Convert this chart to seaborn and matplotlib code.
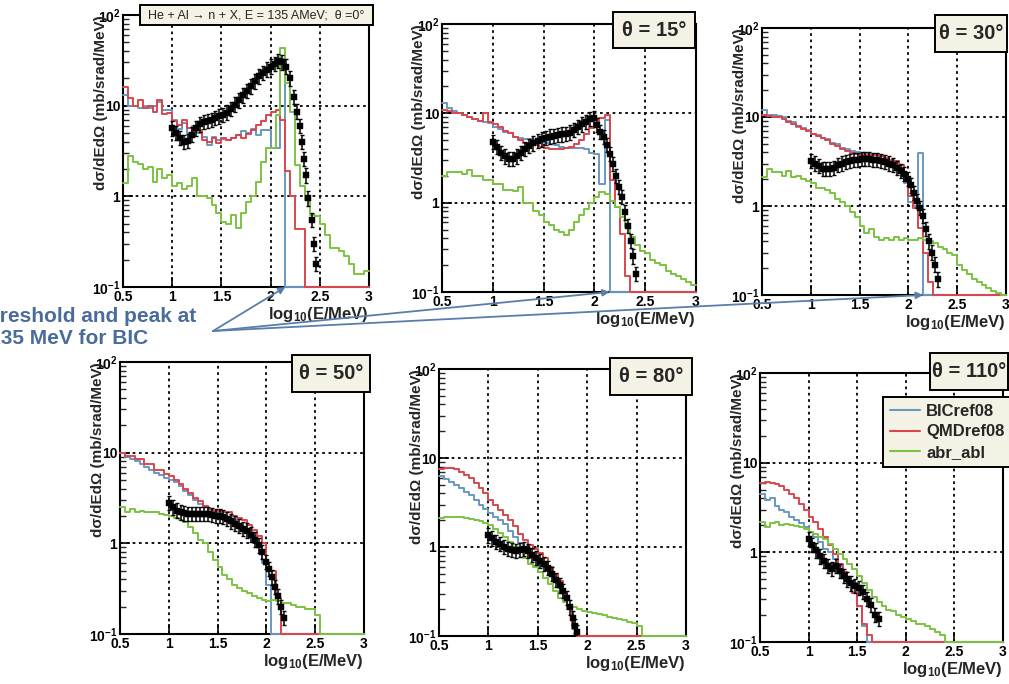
import numpy as np
import pandas as pd
import matplotlib
matplotlib.use("Agg")
import matplotlib.pyplot as plt
import seaborn as sns
from matplotlib.patches import Rectangle
from matplotlib.lines import Line2D
from matplotlib.ticker import LogLocator, NullFormatter

# ---------------- data ----------------
# histogram bins: log10(E/MeV) from 0.5 to 3.0, width 0.05 (values listed up to the last filled bin)
bic_0 = [13, 10, 10, 9.5, 10, 9.5, 10, 11, 9, 9, 7, 5.5, 6.5, 5, 6, 5, 4.5, 3.7, 4.5, 4.2,
         4.3, 4.2, 4.4, 4.8, 5.3, 5.0, 5.5, 4.8, 5.4, 5.4, 3.4, 3.4, 33]
qmd_0 = [16, 12, 10, 11.5, 9.4, 10, 8.6, 11.5, 8, 8.2, 6.7, 6.1, 6.9, 5.6, 5.2, 5.4, 4.2, 4.0, 4.4, 3.9,
         4.4, 4.2, 4.4, 4.7, 4.4, 4.9, 5.4, 6.1, 6.7, 7.9, 8.6, 9.0, 7.0, 1.9, 1.0, 0.44, 0.44]
abl_0 = [1.4, 2.8, 2.4, 2.3, 2.0, 2.1, 1.45, 2.0, 1.6, 1.7, 1.3, 1.4, 1.2, 1.3, 1.6, 1.0, 1.0, 0.95, 0.8, 0.65,
         0.52, 0.5, 0.62, 0.45, 0.65, 0.87, 1.0, 1.45, 2.4, 3.4, 3.4, 7.9, 43, 18, 8.6, 2.2, 1.3, 0.9, 0.62, 0.6,
         0.5, 0.37, 0.27, 0.27, 0.25, 0.22, 0.18, 0.14, 0.14, 0.15]

bic_1 = [13, 11.5, 10.5, 10, 9.6, 9.0, 8.7, 8.2, 8.0, 7.7, 7.0, 6.7, 6.2, 6.0, 5.5, 5.3, 5.2, 5.2, 5.0, 4.8,
         4.6, 4.5, 4.4, 4.2, 4.1, 4.1, 4.1, 4.1, 4.0, 3.6, 3.5, 1.6, 8.4]
qmd_1 = [11, 10.5, 10, 10, 9.5, 9, 8.6, 8.2, 10, 8, 7.5, 7.0, 6.4, 6.0, 5.5, 5.0, 4.7, 4.5, 4.4, 4.2,
         4.1, 4.0, 4.0, 4.0, 4.1, 4.2, 4.5, 5.0, 5.8, 6.8, 7.5, 8.8, 9.5, 1.8, 0.9, 0.45, 0.15]
abl_1 = [2.0, 2.2, 2.2, 2.2, 2.1, 2.3, 2.0, 2.0, 1.8, 1.8, 1.6, 1.6, 1.4, 1.4, 1.35, 1.5, 1.0, 0.98, 0.8, 0.72,
         0.6, 0.56, 0.5, 0.47, 0.44, 0.5, 0.6, 0.72, 0.85, 1.0, 1.15, 1.3, 1.25, 1.05, 0.9, 0.7, 0.53, 0.41, 0.34, 0.29,
         0.27, 0.23, 0.21, 0.2, 0.17, 0.16, 0.15, 0.14, 0.13, 0.12]

bic_2 = [12, 10.5, 10.5, 10.3, 10, 9, 8.8, 7.8, 7.5, 7.2, 6.5, 6.2, 5.8, 5.6, 5.1, 5.0, 4.5, 4.4, 4.1, 4.0,
         3.9, 3.9, 3.8, 3.8, 3.6, 3.5, 3.2, 3.1, 2.7, 1.8, 1.1, 1.0, 3.9]
qmd_2 = [10.5, 10.2, 10, 10, 9.6, 8.8, 8.3, 8.0, 7.3, 7.0, 6.4, 6.1, 5.8, 5.5, 5.0, 4.7, 4.4, 4.2, 3.9, 3.8,
         3.7, 3.7, 3.7, 3.7, 3.6, 3.5, 3.3, 3.2, 2.9, 2.2, 1.3, 0.95, 0.57, 0.3, 0.14]
abl_2 = [2.1, 2.6, 2.4, 2.4, 2.2, 2.5, 2.1, 2.2, 2.0, 1.9, 1.8, 1.6, 1.6, 1.5, 1.4, 1.2, 1.1, 1.0, 0.85, 0.75,
         0.6, 0.5, 0.55, 0.45, 0.42, 0.44, 0.42, 0.45, 0.42, 0.44, 0.42, 0.42, 0.44, 0.42, 0.4, 0.38, 0.35, 0.33, 0.3, 0.28,
         0.22, 0.19, 0.17, 0.15, 0.14, 0.13, 0.12, 0.11, 0.105, 0.1]

bic_3 = [10, 9, 8.5, 8, 7.5, 7, 6.5, 6, 5.6, 5.3, 5.0, 4.7, 4.3, 3.8, 3.4, 3.0, 2.7, 2.5, 2.3, 2.2,
         2.1, 2.0, 1.9, 1.8, 1.6, 1.5, 1.4, 1.2, 0.9, 0.6, 0.35]
qmd_3 = [10, 9.2, 9.2, 8.5, 8.5, 7.5, 7.5, 6.5, 6.5, 5.8, 5.5, 5.0, 4.5, 4.0, 3.6, 3.2, 2.9, 2.6, 2.4, 2.3,
         2.3, 2.2, 2.2, 2.0, 1.9, 1.8, 1.6, 1.4, 1.2, 1.0, 0.55, 0.5, 0.25]
abl_3 = [2.5, 2.2, 2.4, 2.2, 2.25, 2.2, 2.2, 2.2, 2.1, 2.05, 2.0, 1.9, 1.8, 1.7, 1.5, 1.3, 1.1, 1.0, 0.8, 0.65,
         0.55, 0.45, 0.4, 0.35, 0.32, 0.3, 0.28, 0.26, 0.25, 0.24, 0.23, 0.24, 0.23, 0.22, 0.22, 0.21, 0.2, 0.2, 0.19, 0.19,
         0.16]

bic_4 = [6.2, 5.8, 5.4, 5.0, 4.6, 4.2, 3.8, 3.4, 3.0, 2.7, 2.4, 2.2, 2.0, 1.8, 1.5, 1.3, 1.1, 0.95, 0.85, 0.75,
         0.68, 0.6, 0.5, 0.42, 0.35, 0.28, 0.2, 0.12]
qmd_4 = [7.5, 7.8, 7.8, 7.5, 7.0, 6.5, 6.0, 5.2, 4.6, 4.0, 3.4, 3.0, 2.6, 2.3, 2.0, 1.7, 1.4, 1.2, 1.05, 0.95,
         0.85, 0.75, 0.6, 0.5, 0.42, 0.3, 0.2, 0.13]
abl_4 = [2.1, 2.15, 2.2, 2.2, 2.15, 2.1, 2.05, 2.0, 1.95, 1.85, 1.75, 1.6, 1.45, 1.3, 1.15, 1.0, 0.9, 0.75, 0.65, 0.6,
         0.52, 0.45, 0.38, 0.32, 0.27, 0.24, 0.22, 0.21, 0.2, 0.19, 0.185, 0.18, 0.175, 0.17, 0.165, 0.16, 0.155, 0.15, 0.145, 0.14,
         0.13]

bic_5 = [4.5, 3.8, 4.0, 3.3, 3.0, 2.8, 2.5, 2.3, 2.1, 1.9, 1.7, 1.5, 1.3, 1.1, 1.0, 0.85, 0.7, 0.55, 0.45, 0.35,
         0.25, 0.15]
qmd_5 = [6.0, 6.1, 6.0, 5.8, 5.5, 5.0, 4.5, 4.0, 3.5, 3.0, 2.5, 2.2, 1.8, 1.5, 1.2, 0.95, 0.75, 0.6, 0.45, 0.35,
         0.25, 0.16, 0.12]
abl_5 = [2.2, 1.9, 2.1, 2.2, 2.0, 2.05, 2.0, 1.95, 1.9, 1.8, 1.7, 1.6, 1.5, 1.4, 1.25, 1.1, 0.95, 0.85, 0.75, 0.65,
         0.55, 0.45, 0.38, 0.32, 0.28, 0.25, 0.23, 0.22, 0.2, 0.19, 0.18, 0.17, 0.16, 0.16, 0.15, 0.14, 0.13, 0.12]

# measured points (log10 E, cross section)
dx_0 = [1.00, 1.04, 1.08, 1.12, 1.16, 1.20, 1.24, 1.28, 1.32, 1.36, 1.40, 1.44, 1.48, 1.52, 1.56, 1.60,
        1.64, 1.68, 1.72, 1.76, 1.80, 1.84, 1.88, 1.92, 1.96, 2.00, 2.04, 2.08, 2.12, 2.16, 2.20,
        2.24, 2.27, 2.30, 2.32, 2.34, 2.36, 2.38, 2.42, 2.44, 2.46]
dy_0 = [5.6, 5.0, 4.4, 4.0, 4.1, 4.8, 5.6, 6.2, 6.6, 6.8, 7.0, 7.3, 7.6, 7.9, 8.4, 9.2,
        10.3, 11.5, 13.0, 14.5, 16.3, 18.5, 21, 23, 25, 27, 29, 31, 30, 27, 20,
        12.5, 8.6, 6.0, 4.0, 2.6, 1.7, 0.95, 0.55, 0.3, 0.18]
dx_1 = [1.00, 1.04, 1.08, 1.12, 1.16, 1.20, 1.24, 1.28, 1.32, 1.36, 1.40, 1.44, 1.48, 1.52, 1.56, 1.60,
        1.64, 1.68, 1.72, 1.76, 1.80, 1.84, 1.88, 1.92, 1.96, 2.00,
        2.03, 2.06, 2.09, 2.12, 2.15, 2.18, 2.21, 2.24, 2.27, 2.30, 2.33, 2.36, 2.38, 2.41]
dy_1 = [4.8, 4.2, 3.6, 3.3, 3.1, 3.1, 3.3, 3.6, 4.0, 4.3, 4.6, 4.9, 5.1, 5.3, 5.5, 5.6,
        5.7, 5.8, 5.9, 6.1, 6.5, 7.0, 7.5, 8.0, 8.6, 8.8,
        7.4, 6.2, 5.4, 4.4, 3.5, 2.7, 2.0, 1.5, 1.15, 0.78, 0.55, 0.37, 0.25, 0.16]
dx_2 = [1.00, 1.04, 1.08, 1.12, 1.16, 1.20, 1.24, 1.28, 1.32, 1.36, 1.40, 1.44, 1.48, 1.52, 1.56, 1.60,
        1.64, 1.68, 1.72, 1.76, 1.80, 1.84, 1.88, 1.92, 1.96,
        2.00, 2.03, 2.06, 2.09, 2.12, 2.15, 2.18, 2.21, 2.24, 2.27, 2.30]
dy_2 = [3.2, 3.0, 2.8, 2.6, 2.6, 2.6, 2.7, 2.9, 3.0, 3.1, 3.2, 3.3, 3.3, 3.4, 3.4, 3.4,
        3.3, 3.3, 3.2, 3.1, 3.0, 2.9, 2.7, 2.5, 2.3,
        2.0, 1.7, 1.4, 1.15, 0.95, 0.78, 0.55, 0.4, 0.3, 0.22, 0.15]
dx_3 = [1.00, 1.04, 1.08, 1.12, 1.16, 1.20, 1.24, 1.28, 1.32, 1.36, 1.40, 1.44, 1.48, 1.52, 1.56, 1.60,
        1.64, 1.68, 1.72, 1.76, 1.80, 1.84, 1.88, 1.92, 1.96, 2.00,
        2.03, 2.06, 2.09, 2.12, 2.15, 2.18]
dy_3 = [2.8, 2.5, 2.3, 2.2, 2.15, 2.1, 2.1, 2.1, 2.1, 2.1, 2.1, 2.05, 2.0, 2.0, 1.95, 1.85,
        1.75, 1.65, 1.55, 1.45, 1.38, 1.25, 1.1, 0.95, 0.8, 0.62,
        0.52, 0.42, 0.33, 0.26, 0.2, 0.15]
dx_4 = [1.00, 1.04, 1.08, 1.12, 1.16, 1.20, 1.24, 1.28, 1.32, 1.36, 1.40, 1.44, 1.48, 1.52, 1.56, 1.60,
        1.64, 1.68, 1.72, 1.76, 1.80, 1.83, 1.86, 1.88, 1.90]
dy_4 = [1.35, 1.25, 1.15, 1.08, 1.0, 0.96, 0.92, 0.9, 0.92, 0.95, 0.9, 0.82, 0.76, 0.7, 0.65, 0.58,
        0.5, 0.43, 0.37, 0.32, 0.27, 0.21, 0.16, 0.13, 0.11]
dx_5 = [1.00, 1.04, 1.08, 1.12, 1.16, 1.20, 1.24, 1.28, 1.32, 1.36, 1.40, 1.44, 1.48, 1.52, 1.56, 1.60,
        1.64, 1.68, 1.72]
dy_5 = [1.4, 1.2, 1.05, 0.9, 0.8, 0.7, 0.65, 0.7, 0.62, 0.55, 0.5, 0.45, 0.42, 0.4, 0.36, 0.3,
        0.26, 0.2, 0.18]

angles = ["0", "15", "30", "50", "80", "110"]
series_names = ["BICref08", "QMDref08", "abr_abl"]
x_ticks = [0.5, 1, 1.5, 2, 2.5, 3]
x_ticklabels = ["0.5", "1", "1.5", "2", "2.5", "3"]
y_ticks = [0.1, 1, 10, 100]
y_ticklabels = [r"$10^{-1}$", "1", "10", r"$10^{2}$"]

# ---------------- style ----------------
sns.set_style("ticks")
plt.rcParams["font.family"] = ["Liberation Sans", "DejaVu Sans"]
plt.rcParams["mathtext.fontset"] = "custom"
plt.rcParams["mathtext.rm"] = "Liberation Sans"
plt.rcParams["mathtext.bf"] = "Liberation Sans:bold"
plt.rcParams["mathtext.it"] = "Liberation Sans:italic"
plt.rcParams["mathtext.default"] = "bf"

COLORS = ["#6a97c2", "#d9464e", "#7dc244"]
BOXFACE = "#f4f2e4"
W, H = 1009, 684
EDGES = np.linspace(0.5, 3.0, 51)
YMIN, YMAX = 0.1, 100.0

fig = plt.figure(figsize=(W / 100, H / 100), dpi=100)
fig.patch.set_facecolor("white")

# axes rectangles in pixels: left, right, top, bottom
rects = [(123, 369, 15, 287), (442, 696, 24, 292), (762, 1006, 28, 295),
         (120, 364, 362, 634), (439, 686, 369, 636), (760, 1003, 373, 642)]
hists = [(bic_0, qmd_0, abl_0), (bic_1, qmd_1, abl_1), (bic_2, qmd_2, abl_2),
         (bic_3, qmd_3, abl_3), (bic_4, qmd_4, abl_4), (bic_5, qmd_5, abl_5)]
points = [(dx_0, dy_0), (dx_1, dy_1), (dx_2, dy_2), (dx_3, dy_3), (dx_4, dy_4), (dx_5, dy_5)]


def draw_hist(ax, vals, color):
    v = list(vals) + [YMIN] * (len(EDGES) - 1 - len(vals))
    df = pd.DataFrame({"x": EDGES, "y": v + [v[-1]]})
    sns.lineplot(data=df, x="x", y="y", ax=ax, color=color, lw=1.4,
                 drawstyle="steps-post", estimator=None, sort=False,
                 legend=False, clip_on=False, zorder=3)


axes = []
for i, (l, r, t, b) in enumerate(rects):
    ax = fig.add_axes([l / W, 1 - b / H, (r - l) / W, (b - t) / H])
    axes.append(ax)
    ax.set_yscale("log")
    for xv in [1, 1.5, 2, 2.5]:
        ax.axvline(xv, color="black", lw=1.3, ls=(0, (1.5, 2.0)), zorder=1)
    for yv in [1, 10]:
        ax.axhline(yv, color="black", lw=1.3, ls=(0, (1.5, 2.0)), zorder=1)
    for vals, c in zip(hists[i], COLORS):
        draw_hist(ax, vals, c)
    dx = np.array(points[i][0])
    dy = np.array(points[i][1])
    ax.errorbar(dx, dy, yerr=[dy * 0.17, dy * 0.2], fmt="none", ecolor="black",
                elinewidth=1.1, capsize=1.6, capthick=1.0, zorder=4)
    sns.scatterplot(x=dx, y=dy, ax=ax, marker="s", s=16, color="black",
                    edgecolor="black", linewidth=0.3, zorder=5, legend=False)
    ax.set_xlim(0.5, 3.0)
    ax.set_ylim(YMIN, YMAX)
    ax.set_xticks(x_ticks)
    ax.set_xticklabels(x_ticklabels, fontsize=10, fontweight="bold")
    ax.set_yticks(y_ticks)
    ax.set_yticklabels(y_ticklabels, fontsize=10, fontweight="bold")
    ax.yaxis.set_minor_locator(LogLocator(base=10, subs=np.arange(2, 10)))
    ax.yaxis.set_minor_formatter(NullFormatter())
    ax.tick_params(axis="both", which="major", direction="in", length=7, width=1.2,
                   pad=2, colors="black")
    ax.tick_params(axis="y", which="minor", direction="in", length=4, width=1.0)
    for s in ax.spines.values():
        s.set_linewidth(1.5)
        s.set_color("black")
    ax.set_xlabel(r"log$_{10}$(E/MeV)", fontsize=12, fontweight="bold", loc="right", labelpad=1)
    ax.set_ylabel("dσ/dEdΩ (mb/srad/MeV)", fontsize=11, fontweight="bold", loc="top")
    ax.yaxis.set_label_coords(-0.062, 1.0)
    ax.set_facecolor("white")


def fig_box(x0, y0, x1, y1, text, fs, weight="bold"):
    fig.add_artist(Rectangle((x0 / W, 1 - y1 / H), (x1 - x0) / W, (y1 - y0) / H,
                             transform=fig.transFigure, facecolor=BOXFACE,
                             edgecolor="black", lw=1.4, zorder=10))
    fig.text((x0 + x1) / 2 / W, 1 - (y0 + y1) / 2 / H, text, ha="center", va="center",
             fontsize=fs, fontweight=weight, zorder=11)


fig_box(140, 5, 373, 25, "He + Al → n + X, E = 135 AMeV;  θ =0°", 9, "normal")
theta_boxes = [(613, 12, 695, 48), (935, 15, 1007, 52), (292, 355, 370, 392),
               (610, 358, 692, 395), (930, 353, 1008, 390)]
for (x0, y0, x1, y1), a in zip(theta_boxes, angles[1:]):
    fig_box(x0, y0, x1, y1, f"θ = {a}°", 14.5)

handles = [Line2D([], [], color=c, lw=1.5) for c in COLORS]
leg = fig.legend(handles, series_names, loc="upper left",
                 bbox_to_anchor=(883 / W, 1 - 397 / H), bbox_transform=fig.transFigure,
                 frameon=True, fancybox=False, edgecolor="black", facecolor=BOXFACE,
                 framealpha=1, prop={"weight": "bold", "size": 12}, handlelength=1.8,
                 handletextpad=0.4, borderpad=0.4, labelspacing=0.35, borderaxespad=0)
leg.get_frame().set_linewidth(1.4)
leg.set_zorder(12)

# annotation text and arrows
TXTC = "#4a6c9b"
fig.text(-20 / W, 1 - 316 / H, "threshold and peak at", ha="left", va="center",
         fontsize=15, fontweight="bold", color=TXTC)
fig.text(-11 / W, 1 - 339 / H, "135 MeV for BIC", ha="left", va="center",
         fontsize=15, fontweight="bold", color=TXTC)
for ax in axes[:3]:
    ax.annotate("", xy=(2.15, YMIN), xycoords="data",
                xytext=(213 / W, 1 - 331 / H), textcoords="figure fraction",
                arrowprops=dict(arrowstyle="-|>", color="#5a7dab", lw=1.3,
                                mutation_scale=10, shrinkA=0, shrinkB=0),
                annotation_clip=False, zorder=20)

fig.savefig("out.png", dpi=100)
